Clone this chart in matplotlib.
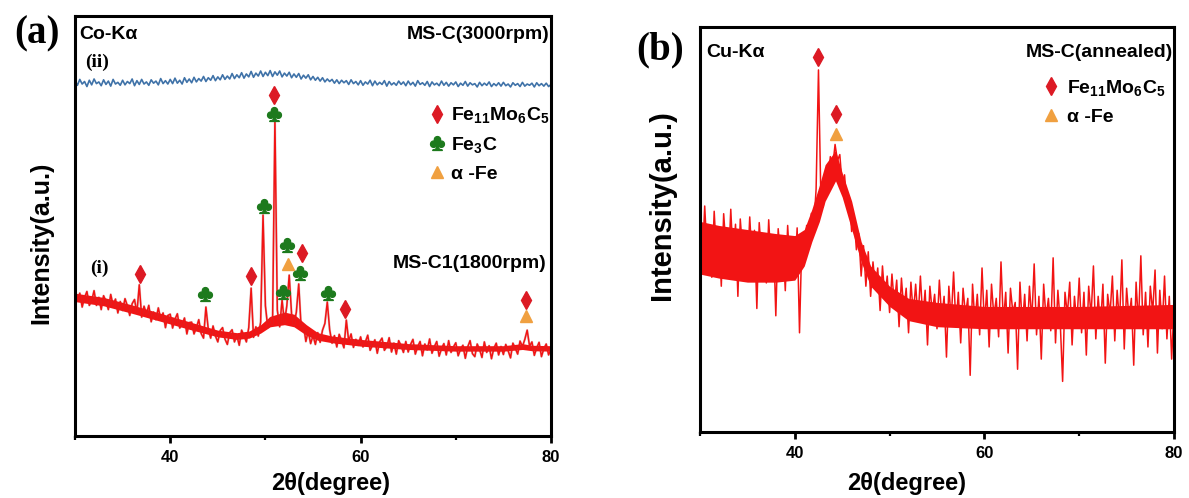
import numpy as np
import matplotlib
matplotlib.use('Agg')
import matplotlib.pyplot as plt

plt.rcParams['font.family'] = ['Liberation Sans', 'DejaVu Sans']
plt.rcParams['font.weight'] = 'bold'
plt.rcParams['mathtext.fontset'] = 'custom'
plt.rcParams['mathtext.rm'] = 'Liberation Sans:bold'
plt.rcParams['mathtext.bf'] = 'Liberation Sans:bold'
plt.rcParams['mathtext.it'] = 'Liberation Sans:bold:italic'
plt.rcParams['mathtext.default'] = 'bf'
plt.rcParams['mathtext.fallback'] = 'stix'

# ---- (a) MS-C1 (1800 rpm), Co-Ka, 30..80 deg, step 0.25 ----
two_theta_a = np.linspace(30, 80, 201)
ms_c1 = [
    35.1, 32.3, 34.0, 30.7, 33.0, 34.4, 31.1, 32.2, 34.6, 31.1, 33.0, 30.1, 33.4, 32.1, 30.1, 33.7, 31.1, 32.6, 29.3, 32.0,
    29.9, 32.7, 31.0, 28.7, 31.5, 32.5, 29.3, 36.0, 28.3, 30.9, 29.1, 31.1, 27.2, 29.5, 27.7, 30.5, 27.9, 29.3, 25.8, 28.7,
    29.0, 25.7, 27.8, 29.1, 25.7, 26.6, 28.1, 24.3, 27.0, 27.1, 24.3, 25.8, 27.7, 24.4, 23.3, 30.7, 25.4, 23.3, 26.2, 23.8,
    22.4, 25.1, 25.8, 23.1, 21.8, 24.6, 25.3, 22.4, 23.9, 21.6, 25.2, 23.9, 22.4, 25.8, 35.2, 23.5, 26.0, 23.8, 27.1, 52.6,
    31.0, 25.8, 28.0, 26.5, 75.2, 30.0, 26.0, 32.4, 27.0, 31.0, 38.3, 29.0, 26.5, 29.5, 36.2, 26.0, 26.5, 22.5, 25.0, 22.0,
    23.9, 21.8, 24.6, 22.3, 25.2, 26.8, 31.9, 25.3, 22.1, 23.9, 21.2, 24.2, 22.7, 21.0, 27.6, 22.6, 24.3, 21.1, 23.0, 21.6,
    23.6, 21.2, 22.4, 24.0, 20.4, 21.6, 22.9, 19.7, 22.4, 23.3, 20.4, 21.3, 23.4, 20.0, 22.1, 19.5, 22.7, 21.5, 19.9, 22.5,
    20.0, 21.8, 23.0, 19.5, 21.3, 22.5, 19.1, 21.9, 20.5, 23.1, 19.7, 21.3, 22.5, 19.0, 20.8, 22.0, 19.3, 22.7, 19.9, 21.2,
    22.2, 19.1, 20.7, 21.6, 18.5, 21.2, 22.7, 19.6, 18.9, 21.9, 20.6, 18.7, 22.4, 19.9, 21.5, 18.4, 20.9, 22.1, 19.3, 21.3,
    19.4, 21.8, 20.3, 18.6, 22.1, 20.9, 19.5, 22.6, 21.3, 23.0, 25.2, 21.4, 22.4, 19.2, 21.0, 22.3, 18.9, 20.8, 21.9, 19.3,
    20.7,
]
# solid core of the noisy trace
band_a_x = [30, 33, 36, 39, 42, 45, 47, 48.3, 49.5, 50.5, 52, 53, 54.3, 55.5, 57, 60, 65, 70, 75, 77, 78, 80]
band_a_lo = [32.0, 31.0, 29.2, 27.3, 25.4, 23.6, 23.0, 23.3, 24.5, 26.0, 26.5, 26.0, 24.0, 22.8, 22.2, 21.4,
             20.6, 20.2, 20.2, 20.6, 20.3, 20.2]
band_a_hi = [34.0, 33.0, 31.2, 29.2, 27.2, 25.2, 24.6, 25.0, 26.5, 28.5, 29.5, 29.0, 26.5, 24.6, 23.8, 23.0,
             22.0, 21.5, 21.5, 22.0, 21.6, 21.5]

# ---- (a) MS-C (3000 rpm), step 0.25 ----
ms_c = [
    84.6, 83.5, 84.9, 83.8, 84.4, 83.2, 84.7, 83.6, 85.0, 83.9, 84.3, 83.4, 84.8, 83.7, 84.5, 83.3, 84.9, 83.8, 84.2, 83.5,
    84.7, 83.6, 84.4, 83.9, 85.0, 83.4, 84.6, 83.7, 84.9, 83.8, 84.3, 83.5, 84.8, 84.0, 84.5, 83.6, 85.1, 83.9, 84.6, 83.8,
    84.9, 83.9, 85.2, 84.0, 84.7, 83.8, 85.3, 84.2, 85.0, 84.1, 85.4, 84.3, 85.1, 84.5, 85.6, 84.4, 85.3, 84.7, 85.8, 84.6,
    85.5, 84.8, 86.0, 84.9, 85.7, 85.0, 86.3, 85.1, 86.0, 85.3, 86.5, 85.2, 86.2, 85.5, 86.8, 85.4, 86.4, 85.7, 86.9, 85.6,
    86.6, 85.8, 87.0, 85.6, 86.7, 85.9, 86.9, 85.5, 86.4, 85.7, 86.6, 85.3, 86.2, 85.4, 86.3, 85.0, 85.9, 85.2, 86.0, 84.8,
    85.6, 84.7, 85.4, 84.5, 85.3, 84.3, 85.0, 84.4, 84.9, 84.0, 84.8, 83.9, 84.7, 84.1, 84.6, 83.7, 84.8, 83.9, 84.4, 83.6,
    84.6, 83.5, 84.3, 83.8, 84.7, 83.4, 84.5, 83.6, 84.2, 83.7, 84.6, 83.3, 84.4, 83.6, 84.1, 83.5, 84.5, 83.7, 84.3, 83.4,
    84.5, 83.6, 84.2, 83.3, 84.6, 83.7, 84.1, 83.5, 84.4, 83.2, 84.3, 83.6, 84.0, 83.4, 84.5, 83.5, 84.2, 83.3, 84.1, 83.6,
    84.3, 83.2, 84.0, 83.5, 84.4, 83.3, 84.1, 83.6, 83.9, 83.1, 84.2, 83.4, 84.0, 83.5, 84.3, 83.2, 83.9, 83.4, 84.1, 83.3,
    84.2, 83.4, 83.8, 83.1, 84.1, 83.5, 83.9, 83.2, 84.2, 83.3, 83.8, 83.5, 84.0, 83.1, 84.1, 83.4, 83.9, 83.3, 84.0, 83.2,
    83.7,
]

# ---- (b) MS-C annealed, Cu-Ka, step 0.25 ----
two_theta_b = np.linspace(30, 80, 201)
ms_c_annealed = [
    52.0, 41.5, 55.8, 44.0, 50.7, 38.2, 54.5, 43.1, 49.6, 36.0, 53.9, 45.2, 40.8, 55.0, 42.4, 51.3, 33.5, 52.6, 44.7, 48.9,
    39.6, 53.1, 42.0, 49.8, 30.5, 51.7, 43.3, 47.9, 36.8, 52.4, 41.1, 48.5, 28.7, 50.2, 42.6, 47.0, 34.9, 51.0, 40.2, 46.8,
    38.5, 50.4, 24.5, 48.0, 42.5, 51.0, 46.5, 54.0, 50.5, 60.0, 89.4, 58.0, 55.5, 63.0, 61.5, 68.0, 65.5, 71.0, 67.0, 68.5,
    61.0, 63.5, 55.5, 58.0, 49.5, 53.0, 45.0, 49.0, 38.5, 46.0, 36.0, 44.5, 33.5, 42.0, 35.5, 40.5, 30.0, 41.0, 33.0, 38.5,
    29.5, 39.0, 31.5, 37.5, 26.0, 38.0, 30.0, 35.5, 24.5, 37.0, 29.0, 36.5, 27.5, 38.5, 28.0, 35.0, 21.5, 36.0, 29.5, 34.0,
    25.5, 37.5, 28.0, 33.5, 18.5, 36.0, 27.5, 39.5, 26.0, 34.5, 22.0, 35.5, 29.0, 33.0, 14.0, 36.5, 27.0, 34.0, 24.0, 40.5,
    26.5, 35.0, 21.0, 36.5, 28.5, 33.0, 23.5, 42.0, 27.0, 34.5, 19.5, 35.5, 29.5, 32.0, 15.5, 37.0, 26.0, 34.0, 22.5, 36.0,
    27.5, 41.5, 24.0, 33.5, 18.0, 36.5, 28.0, 33.0, 25.0, 43.0, 22.0, 35.0, 27.0, 12.5, 34.5, 29.0, 37.0, 21.5, 33.5, 26.5,
    38.0, 24.5, 34.5, 19.0, 36.0, 28.5, 41.0, 23.0, 33.5, 26.0, 36.5, 17.0, 34.0, 29.0, 38.5, 22.5, 35.0, 27.0, 42.5, 20.5,
    35.5, 28.0, 33.0, 16.5, 37.0, 26.5, 43.5, 24.0, 34.5, 21.0, 36.0, 29.5, 40.0, 19.5, 35.0, 25.5, 38.5, 23.0, 33.5, 18.0,
    31.0,
]
band_b_x = [30, 32, 35, 38, 40, 41, 41.8, 42.6, 43.2, 44.3, 45, 46, 47, 48, 50, 52, 55, 60, 70, 80]
band_b_lo = [39, 38, 37, 37, 37.5, 41, 47, 52, 57, 62, 58, 50, 42, 36, 31, 27.5, 26, 25.5, 25.5, 25.5]
band_b_hi = [52, 51, 50, 49, 48.5, 50, 55, 61, 66, 69.5, 64, 57, 47, 41, 36, 33, 32, 31, 31, 31.5]

# phase markers (2theta, height)
a_fe11_x = [36.8, 48.5, 50.95, 53.8, 58.4, 77.4]
a_fe11_y = [38.6, 38.1, 81.2, 43.6, 30.2, 32.4]
a_fe3c_x = [43.7, 49.8, 50.95, 51.85, 52.3, 53.6, 56.6]
a_fe3c_y = [33.8, 54.8, 76.7, 34.3, 45.5, 38.8, 34.0]
a_afe_x = [52.4, 77.4]
a_afe_y = [41.0, 28.6]

b_fe11_x = [42.45, 44.35]
b_fe11_y = [92.6, 78.5]
b_afe_x = [44.4]
b_afe_y = [73.6]

RED = '#f21414'
DIAMOND = '#dc1a24'
CLUB = '#1d7a1d'
ORANGE = '#f0a040'
BLUE = '#3f72a8'

fe11_label = r'Fe$_{11}$Mo$_{6}$C$_{5}$'


def style_axis(ax, ylab_size):
    ax.set_xlim(30, 80)
    ax.set_ylim(0, 100)
    ax.set_xticks([40, 60, 80])
    ax.set_xticks([30, 50, 70], minor=True)
    ax.set_yticks([])
    for s in ax.spines.values():
        s.set_linewidth(2.2)
    ax.tick_params(axis='x', which='major', direction='out', length=5, width=2,
                   labelsize=12, pad=5)
    ax.tick_params(axis='x', which='minor', direction='out', length=3, width=1.6)
    for lab in ax.get_xticklabels():
        lab.set_fontweight('bold')
    ax.set_xlabel('2θ(degree)', fontsize=17, fontweight='bold')
    ax.set_ylabel('Intensity(a.u.)', fontsize=ylab_size, fontweight='bold')


def draw_pattern(ax, x, y, bx, blo, bhi, edge_alpha):
    ax.fill_between(bx, blo, bhi, color=RED, lw=0)
    if edge_alpha > 0:
        ax.plot(x, y, color='#a05050', lw=1.7, alpha=edge_alpha)
    ax.plot(x, y, color=RED, lw=1.1)


fig = plt.figure(figsize=(11.89, 4.98), dpi=100)
ax1 = fig.add_axes([0.0631, 0.1245, 0.4003, 0.8434])
ax2 = fig.add_axes([0.5887, 0.1325, 0.3987, 0.8133])

# ----- panel (a) -----
draw_pattern(ax1, two_theta_a, ms_c1, band_a_x, band_a_lo, band_a_hi, 0.3)
ax1.plot(two_theta_a, ms_c, color=BLUE, lw=1.2)
ax1.plot(a_fe11_x, a_fe11_y, ls='none', marker='d', ms=9, color=DIAMOND, label=fe11_label)
ax1.plot(a_fe3c_x, a_fe3c_y, ls='none', marker=r'$\clubsuit$', ms=10, color=CLUB, label=r'Fe$_{3}$C')
ax1.plot(a_afe_x, a_afe_y, ls='none', marker='^', ms=8, color=ORANGE, label='α -Fe')
style_axis(ax1, 18)
ax1.xaxis.set_label_coords(0.538, -0.085)
ax1.yaxis.set_label_coords(-0.045, 0.46)
ax1.legend(loc='upper left', bbox_to_anchor=(0.745, 0.787), frameon=False, fontsize=14,
           handlelength=0.8, handletextpad=0.3, labelspacing=0.5, borderpad=0, borderaxespad=0)
ax1.text(30.4, 95.5, 'Co-Kα', fontsize=14, fontweight='bold', va='center', ha='left')
ax1.text(0.997, 0.955, 'MS-C(3000rpm)', transform=ax1.transAxes, fontsize=14,
         fontweight='bold', va='center', ha='right')
ax1.text(0.99, 0.41, 'MS-C1(1800rpm)', transform=ax1.transAxes, fontsize=14,
         fontweight='bold', va='center', ha='right')
ax1.text(31.05, 89, '(ii)', family='Liberation Serif', fontsize=14, fontweight='bold',
         va='center', ha='left')
ax1.text(31.6, 40, '(i)', family='Liberation Serif', fontsize=14, fontweight='bold',
         va='center', ha='left')

# ----- panel (b) -----
draw_pattern(ax2, two_theta_b, ms_c_annealed, band_b_x, band_b_lo, band_b_hi, 0.0)
ax2.plot(b_fe11_x, b_fe11_y, ls='none', marker='d', ms=9, color=DIAMOND, label=fe11_label)
ax2.plot(b_afe_x, b_afe_y, ls='none', marker='^', ms=8, color=ORANGE, label='α -Fe')
style_axis(ax2, 21)
ax2.xaxis.set_label_coords(0.435, -0.098)
ax2.yaxis.set_label_coords(-0.05, 0.56)
ax2.legend(loc='upper left', bbox_to_anchor=(0.725, 0.875), frameon=False, fontsize=14,
           handlelength=0.8, handletextpad=0.4, labelspacing=0.55, borderpad=0, borderaxespad=0)
ax2.text(0.013, 0.936, 'Cu-Kα', transform=ax2.transAxes, fontsize=14, fontweight='bold',
         va='center', ha='left')
ax2.text(0.998, 0.936, 'MS-C(annealed)', transform=ax2.transAxes, fontsize=14,
         fontweight='bold', va='center', ha='right')

fig.text(0.031, 0.932, '(a)', family='Liberation Serif', fontsize=28, fontweight='bold',
         ha='center', va='center')
fig.text(0.555, 0.9, '(b)', family='Liberation Serif', fontsize=28, fontweight='bold',
         ha='center', va='center')

fig.savefig('out.png', dpi=100)
